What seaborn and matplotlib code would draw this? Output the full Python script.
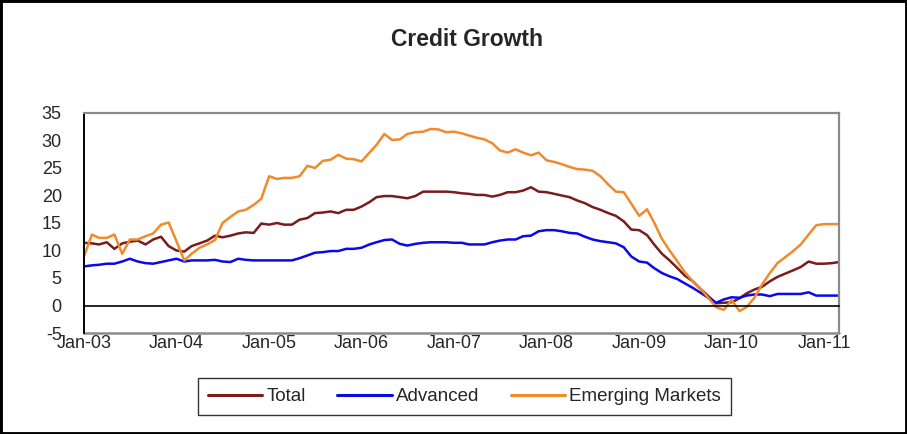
import numpy as np
import pandas as pd
import matplotlib
matplotlib.use("Agg")
import matplotlib.pyplot as plt
import matplotlib.dates as mdates
from matplotlib.patches import Rectangle
from matplotlib.lines import Line2D
import seaborn as sns

# ---------------- data (monthly, Jan-03 .. Mar-11) ----------------
start_month = "2003-01-01"
n_months = 99

total = [
    11.4, 11.3, 11.1, 11.5, 10.3, 11.3, 11.6, 11.8, 11.1, 12.0, 12.5, 10.8,
    10.0, 9.8, 10.8, 11.3, 11.8, 12.7, 12.4, 12.7, 13.1, 13.3, 13.2, 14.9,
    14.7, 15.0, 14.7, 14.7, 15.6, 15.9, 16.8, 16.9, 17.1, 16.8, 17.4, 17.4,
    18.0, 18.8, 19.7, 19.9, 19.9, 19.7, 19.5, 19.9, 20.7, 20.7, 20.7, 20.7,
    20.6, 20.4, 20.3, 20.1, 20.1, 19.8, 20.1, 20.6, 20.6, 20.9, 21.5, 20.7,
    20.6, 20.3, 20.0, 19.7, 19.1, 18.6, 17.9, 17.4, 16.8, 16.3, 15.3, 13.8,
    13.7, 12.8, 11.1, 9.4, 8.2, 6.8, 5.4, 4.4, 3.0, 1.7, 0.4, 0.5,
    0.6, 1.3, 2.2, 2.9, 3.4, 4.4, 5.2, 5.8, 6.4, 7.0, 8.0, 7.6,
    7.6, 7.7, 7.9,
]

advanced = [
    7.1, 7.3, 7.4, 7.6, 7.6, 8.0, 8.5, 8.0, 7.7, 7.6, 7.9, 8.2,
    8.5, 8.0, 8.2, 8.2, 8.2, 8.3, 8.0, 7.9, 8.5, 8.3, 8.2, 8.2,
    8.2, 8.2, 8.2, 8.2, 8.6, 9.1, 9.6, 9.7, 9.9, 9.9, 10.3, 10.3,
    10.5, 11.1, 11.5, 11.9, 12.0, 11.2, 10.9, 11.2, 11.4, 11.5, 11.5, 11.5,
    11.4, 11.4, 11.1, 11.1, 11.1, 11.5, 11.8, 12.0, 12.0, 12.6, 12.7, 13.5,
    13.7, 13.7, 13.5, 13.2, 13.1, 12.5, 12.0, 11.7, 11.5, 11.3, 10.6, 8.9,
    8.0, 7.8, 6.8, 5.9, 5.3, 4.8, 4.0, 3.2, 2.3, 1.4, 0.5, 1.1,
    1.5, 1.4, 1.8, 2.0, 2.0, 1.7, 2.1, 2.1, 2.1, 2.1, 2.4, 1.8,
    1.8, 1.8, 1.8,
]

emerging = [
    8.9, 12.9, 12.3, 12.3, 12.9, 9.4, 12.0, 12.0, 12.6, 13.1, 14.7, 15.1,
    11.7, 8.2, 9.4, 10.5, 11.1, 11.9, 15.0, 16.1, 17.1, 17.4, 18.3, 19.4,
    23.5, 23.0, 23.2, 23.2, 23.5, 25.4, 25.0, 26.3, 26.5, 27.4, 26.7, 26.6,
    26.2, 27.8, 29.2, 31.2, 30.1, 30.2, 31.2, 31.5, 31.6, 32.1, 32.0, 31.5,
    31.6, 31.3, 30.9, 30.5, 30.2, 29.5, 28.2, 27.8, 28.4, 27.8, 27.3, 27.8,
    26.4, 26.1, 25.7, 25.2, 24.8, 24.7, 24.5, 23.5, 22.0, 20.7, 20.6, 18.5,
    16.3, 17.5, 15.1, 12.1, 10.0, 8.0, 6.0, 4.4, 3.0, 1.4, -0.3, -0.8,
    1.0, -1.0, -0.3, 1.4, 3.8, 5.9, 7.7, 8.8, 9.9, 11.1, 12.9, 14.6,
    14.8, 14.8, 14.8,
]

series_names = ["Total", "Advanced", "Emerging Markets"]
series_colors = ["#7a1c1c", "#0a0ae6", "#f08a2c"]
y_ticks = [-5, 0, 5, 10, 15, 20, 25, 30, 35]
title_text = "Credit Growth"

dates = pd.date_range(start_month, periods=n_months, freq="MS")
df = pd.concat([
    pd.DataFrame({"date": dates, "value": vals, "series": name})
    for name, vals in zip(series_names, [total, advanced, emerging])
], ignore_index=True)

# ---------------- style ----------------
sns.set_style("white")
plt.rcParams["font.family"] = ["Liberation Sans", "DejaVu Sans"]
plt.rcParams["axes.unicode_minus"] = False

W, H = 907, 434
fig = plt.figure(figsize=(W / 100, H / 100), dpi=100)
ax = fig.add_axes([84 / W, 1 - 333 / H, (839 - 84) / W, (333 - 113) / H])

sns.lineplot(data=df, x="date", y="value", hue="series",
             palette=dict(zip(series_names, series_colors)),
             hue_order=series_names, linewidth=1.8, ax=ax, legend=False,
             sort=False)

ax.set_xlim(dates[0], dates[-1])
ax.set_ylim(-5, 35)
ax.set_yticks(y_ticks)
ax.set_xlabel("")
ax.set_ylabel("")

ax.xaxis.set_major_locator(mdates.YearLocator())
ax.xaxis.set_major_formatter(mdates.DateFormatter("%b-%y"))

grey = "#8a8a8a"
for s in ["top", "right"]:
    ax.spines[s].set_color(grey)
    ax.spines[s].set_linewidth(1.6)
ax.spines["left"].set_color("black")
ax.spines["left"].set_linewidth(1.4)
ax.spines["bottom"].set_position(("data", 0))
ax.spines["bottom"].set_color("black")
ax.spines["bottom"].set_linewidth(1.2)
ax.axhline(-5, color=grey, lw=1.8, clip_on=False, zorder=0.5)

ax.tick_params(axis="x", direction="out", length=5, width=1.0, color="black",
               pad=16.5, labelsize=13)
ax.tick_params(axis="y", direction="out", length=6, width=1.0, color="black",
               pad=10, labelsize=13)

fig.text(0.515, 0.910, title_text, ha="center", va="center",
         fontsize=16.5, fontweight="bold")

handles = [Line2D([], [], color=c, lw=2.2) for c in series_colors]
leg = fig.legend(handles, series_names, loc="center", ncol=3,
                 bbox_to_anchor=(0.512, 0.0864), fontsize=13.5,
                 frameon=True, fancybox=False, handlelength=2.9,
                 handletextpad=0.2, columnspacing=1.7, borderpad=0.55)
leg.get_frame().set_edgecolor("black")
leg.get_frame().set_linewidth(1.0)

fig.patches.append(Rectangle((0, 0), 1, 1, transform=fig.transFigure,
                             fill=False, edgecolor="black", linewidth=3.5))

fig.savefig("out.png", dpi=100, facecolor="white")
